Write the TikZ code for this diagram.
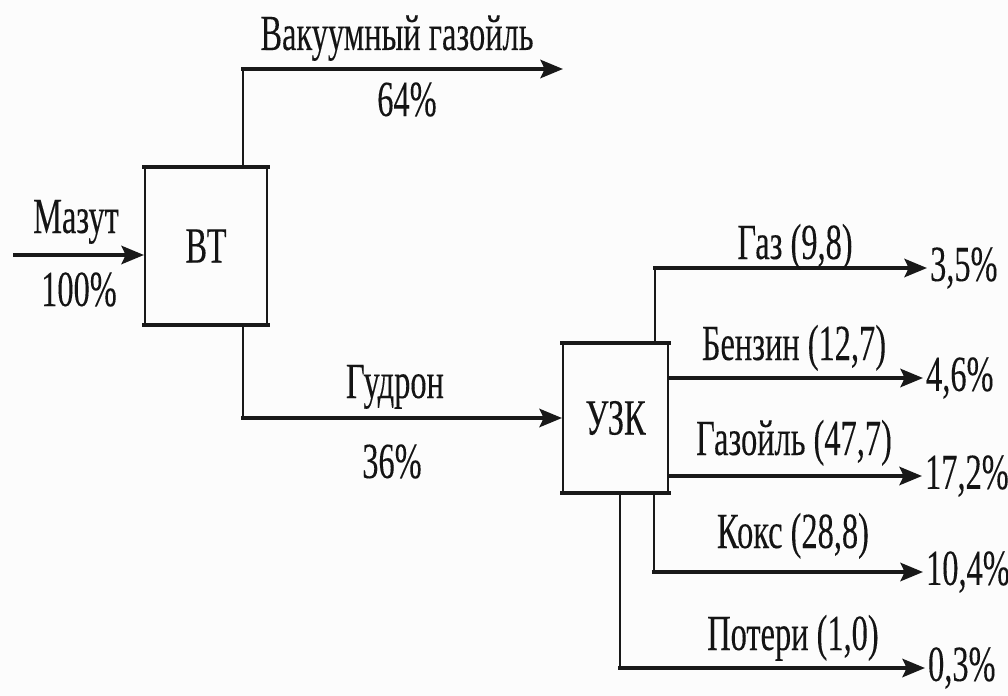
\documentclass[tikz,border=0pt]{standalone}
\usepackage{fontspec}
\setmainfont[FakeStretch=0.64,FakeBold=0.15]{Liberation Serif}
\usetikzlibrary{arrows.meta}
\begin{document}
\begin{tikzpicture}[x=0.025cm,y=-0.025cm,
  ink/.style={draw=black!90},
  hl/.style={ink, line width=2.7pt, line cap=rect},
  vl/.style={ink, line width=1.4pt},
  arr/.style={-{Stealth[length=16pt,width=13pt,inset=3pt]}},
  txt/.style={font=\fontsize{36}{43}\selectfont, text=black!92},
  lbl/.style={txt, inner sep=0pt, anchor=base},
  pct/.style={txt, inner sep=0pt, inner xsep=2pt, anchor=west},
  unitbox/.style={txt, vl, inner sep=0pt}]
\fill[black!1] (0,0) rectangle (1008,696);
\useasboundingbox (0,0) rectangle (1008,696);

% units
\node[unitbox, minimum width=3.05cm, minimum height=3.9cm] (bt) at (206,246) {ВТ};
\node[unitbox, minimum width=2.625cm, minimum height=3.7cm] (uzk) at (615.5,418) {УЗК};
\draw[hl] (bt.north west) -- (bt.north east);
\draw[hl] (bt.south west) -- (bt.south east);
\draw[hl] (uzk.north west) -- (uzk.north east);
\draw[hl] (uzk.south west) -- (uzk.south east);

% output percentages
\node[pct] (p1) at (927,268) {3,5\%};
\node[pct] (p2) at (923,378) {4,6\%};
\node[pct] (p3) at (922,476) {17,2\%};
\node[pct] (p4) at (923,572) {10,4\%};
\node[pct] (p5) at (925,668) {0,3\%};

% turning points
\coordinate (mzs) at (15,255);
\coordinate (vgt) at (243,69);
\coordinate (vge) at (563,69);
\coordinate (gdt) at (243,418);
\coordinate (gst) at (655,268);
\coordinate (kkt) at (654,572);
\coordinate (ptt) at (620,668);

% connectors
\draw[hl,arr] (mzs) -- (mzs -| bt.west);
\draw[vl] (bt.north -| vgt) -- (vgt);
\draw[hl,arr] (vgt) -- (vge);
\draw[vl] (bt.south -| gdt) -- (gdt);
\draw[hl,arr] (gdt) -- (uzk.west);
\draw[vl] (uzk.north -| gst) -- (gst);
\draw[hl,arr] (gst) -- (p1.west);
\draw[hl,arr] (uzk.east |- p2.west) -- (p2.west);
\draw[hl,arr] (uzk.east |- p3.west) -- (p3.west);
\draw[vl] (uzk.south -| kkt) -- (kkt);
\draw[hl,arr] (kkt) -- (p4.west);
\draw[vl] (uzk.south -| ptt) -- (ptt);
\draw[hl,arr] (ptt) -- (p5.west);

% labels
\node[lbl] (lvg) at (397,50) {Вакуумный газойль};
\node[lbl] (lvgp) at (407,116) {64\%};
\node[lbl] (lmz) at (76,233) {Мазут};
\node[lbl] (lmzp) at (79,306) {100\%};
\node[lbl] (lgd) at (395,398) {Гудрон};
\node[lbl] (lgdp) at (392,478) {36\%};
\node[lbl] (lgas) at (795,259) {Газ (9,8)};
\node[lbl] (lbz) at (794,360) {Бензин (12,7)};
\node[lbl] (lgo) at (794,455) {Газойль (47,7)};
\node[lbl] (lkk) at (793,548) {Кокс (28,8)};
\node[lbl] (lpt) at (793,650) {Потери (1,0)};
\end{tikzpicture}
\end{document}
